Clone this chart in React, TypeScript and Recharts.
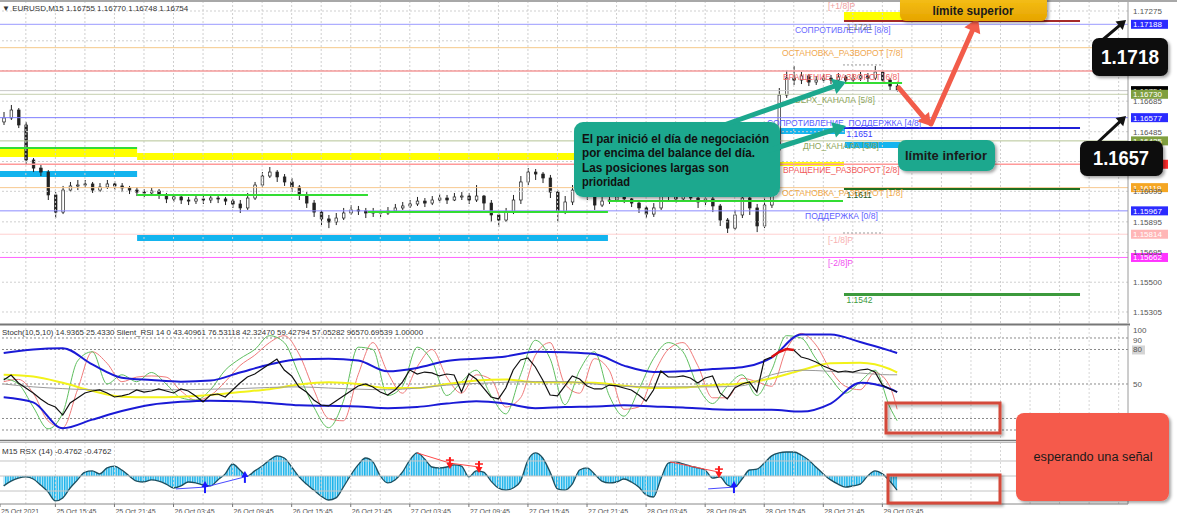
import React from 'react';
import { ComposedChart, Bar, Line, Area, XAxis, YAxis, ReferenceLine, ReferenceArea, ReferenceDot } from 'recharts';

// ---------- EURUSD price candles (45-minute steps) ----------
const OPEN = [
  1.16549, 1.16575, 1.16627, 1.16529, 1.16300, 1.16247, 1.16221, 1.16071, 1.15959, 1.16103,
  1.16130, 1.16136, 1.16143, 1.16103, 1.16123, 1.16143, 1.16130, 1.16117, 1.16103, 1.16090,
  1.16084, 1.16097, 1.16071, 1.16045, 1.16058, 1.16038, 1.16031, 1.16045, 1.16038, 1.16051,
  1.16045, 1.16031, 1.16012, 1.15986, 1.16051, 1.16136, 1.16195, 1.16221, 1.16189, 1.16156,
  1.16123, 1.16071, 1.16018, 1.15959, 1.15914, 1.15894, 1.15920, 1.15953, 1.15973, 1.15966,
  1.15953, 1.15959, 1.15953, 1.15966, 1.15986, 1.15999, 1.16012, 1.16031, 1.16018, 1.16038,
  1.16051, 1.16038, 1.16058, 1.16064, 1.16038, 1.16064, 1.16018, 1.15940, 1.15907, 1.15959,
  1.16038, 1.16156, 1.16221, 1.16208, 1.16182, 1.16090, 1.15959, 1.16025, 1.16103, 1.16156,
  1.16071, 1.16005, 1.16031, 1.16038, 1.16058, 1.16045, 1.16018, 1.15986, 1.15946, 1.15986,
  1.16084, 1.16064, 1.16045, 1.16071, 1.16051, 1.16025, 1.16045, 1.15999, 1.15907, 1.15854,
  1.15940, 1.16051, 1.15986, 1.15868, 1.16005, 1.16365, 1.16725, 1.16836, 1.16823, 1.16850,
  1.16810, 1.16823, 1.16836, 1.16823, 1.16843, 1.16823, 1.16836, 1.16850, 1.16836, 1.16876,
  1.16823, 1.16784,
];
const HIGH = [
  1.16614, 1.16660, 1.16640, 1.16549, 1.16313, 1.16267, 1.16234, 1.16090, 1.16130, 1.16156,
  1.16169, 1.16169, 1.16156, 1.16149, 1.16169, 1.16162, 1.16149, 1.16130, 1.16123, 1.16110,
  1.16117, 1.16110, 1.16084, 1.16077, 1.16071, 1.16058, 1.16064, 1.16064, 1.16071, 1.16071,
  1.16058, 1.16045, 1.16038, 1.16084, 1.16156, 1.16221, 1.16254, 1.16234, 1.16208, 1.16182,
  1.16136, 1.16090, 1.16038, 1.15973, 1.15940, 1.15953, 1.15986, 1.16005, 1.15999, 1.15986,
  1.15986, 1.15979, 1.15992, 1.16012, 1.16025, 1.16038, 1.16058, 1.16051, 1.16064, 1.16077,
  1.16071, 1.16084, 1.16090, 1.16084, 1.16136, 1.16071, 1.16038, 1.15959, 1.15986, 1.16071,
  1.16195, 1.16247, 1.16241, 1.16221, 1.16202, 1.16103, 1.16064, 1.16136, 1.16182, 1.16169,
  1.16090, 1.16064, 1.16064, 1.16084, 1.16071, 1.16051, 1.16038, 1.15999, 1.16018, 1.16117,
  1.16103, 1.16077, 1.16103, 1.16090, 1.16064, 1.16077, 1.16058, 1.16012, 1.15920, 1.15973,
  1.16090, 1.16077, 1.16012, 1.16051, 1.16398, 1.16771, 1.16889, 1.16915, 1.16876, 1.16863,
  1.16850, 1.16863, 1.16856, 1.16869, 1.16856, 1.16863, 1.16876, 1.16869, 1.16915, 1.16889,
  1.16836, 1.16797,
];
const LOW = [
  1.16529, 1.16562, 1.16509, 1.16267, 1.16221, 1.16195, 1.16038, 1.15920, 1.15946, 1.16090,
  1.16103, 1.16117, 1.16084, 1.16090, 1.16110, 1.16103, 1.16090, 1.16077, 1.16064, 1.16058,
  1.16064, 1.16045, 1.16018, 1.16025, 1.16012, 1.16005, 1.16012, 1.16012, 1.16018, 1.16018,
  1.16005, 1.15986, 1.15953, 1.15973, 1.16038, 1.16117, 1.16182, 1.16156, 1.16130, 1.16090,
  1.16038, 1.15986, 1.15927, 1.15874, 1.15854, 1.15874, 1.15907, 1.15940, 1.15940, 1.15920,
  1.15927, 1.15927, 1.15940, 1.15959, 1.15973, 1.15986, 1.15999, 1.15992, 1.16005, 1.16018,
  1.16012, 1.16031, 1.16038, 1.16012, 1.16025, 1.15973, 1.15894, 1.15861, 1.15894, 1.15946,
  1.16012, 1.16136, 1.16169, 1.16149, 1.16051, 1.15894, 1.15946, 1.16005, 1.16090, 1.16038,
  1.15973, 1.15992, 1.16012, 1.16025, 1.16018, 1.15992, 1.15953, 1.15920, 1.15927, 1.15973,
  1.16038, 1.16018, 1.16031, 1.16025, 1.15986, 1.16005, 1.15959, 1.15868, 1.15822, 1.15842,
  1.15920, 1.15940, 1.15828, 1.15854, 1.15986, 1.16352, 1.16706, 1.16791, 1.16797, 1.16784,
  1.16791, 1.16804, 1.16797, 1.16810, 1.16797, 1.16804, 1.16817, 1.16810, 1.16823, 1.16797,
  1.16758, 1.16748,
];
const CLOSE = [
  1.16575, 1.16627, 1.16529, 1.16300, 1.16247, 1.16221, 1.16071, 1.15959, 1.16103, 1.16130,
  1.16136, 1.16143, 1.16103, 1.16123, 1.16143, 1.16130, 1.16117, 1.16103, 1.16090, 1.16084,
  1.16097, 1.16071, 1.16045, 1.16058, 1.16038, 1.16031, 1.16045, 1.16038, 1.16051, 1.16045,
  1.16031, 1.16012, 1.15986, 1.16051, 1.16136, 1.16195, 1.16221, 1.16189, 1.16156, 1.16123,
  1.16071, 1.16018, 1.15959, 1.15914, 1.15894, 1.15920, 1.15953, 1.15973, 1.15966, 1.15953,
  1.15959, 1.15953, 1.15966, 1.15986, 1.15999, 1.16012, 1.16031, 1.16018, 1.16038, 1.16051,
  1.16038, 1.16058, 1.16064, 1.16038, 1.16064, 1.16018, 1.15940, 1.15907, 1.15959, 1.16038,
  1.16156, 1.16221, 1.16208, 1.16182, 1.16090, 1.15959, 1.16025, 1.16103, 1.16156, 1.16071,
  1.16005, 1.16031, 1.16038, 1.16058, 1.16045, 1.16018, 1.15986, 1.15946, 1.15986, 1.16084,
  1.16064, 1.16045, 1.16071, 1.16051, 1.16025, 1.16045, 1.15999, 1.15907, 1.15854, 1.15940,
  1.16051, 1.15986, 1.15868, 1.16005, 1.16365, 1.16725, 1.16836, 1.16823, 1.16850, 1.16810,
  1.16823, 1.16836, 1.16823, 1.16843, 1.16823, 1.16836, 1.16850, 1.16836, 1.16876, 1.16823,
  1.16784, 1.16754,
];

// ---------- Silent_RSI panel ----------
const RSI = [
  53.5, 57.8, 50.9, 46.5, 42.2, 37, 32.6, 30, 23, 33.5,
  37.8, 42.2, 43.9, 44.8, 42.2, 38.7, 39.6, 41.3, 44.8, 43,
  43.9, 45.7, 43.9, 42.2, 45.7, 43.9, 39.6, 34.3, 40.4, 41.3,
  38.7, 44.8, 50.9, 56.1, 58.7, 63, 67.4, 71.7, 62.2, 57,
  47.4, 43, 36.1, 31.7, 30.9, 35.2, 39.6, 43.9, 48.3, 50,
  47.4, 43, 40.4, 44.8, 51.7, 62.2, 58.7, 60.4, 59.6, 57,
  58.7, 57.8, 43, 58.7, 54.3, 46.5, 38.7, 37, 46.5, 62.2,
  70.9, 72.6, 64.8, 53.5, 40.4, 39.6, 48.3, 57, 54.3, 48.3,
  45.7, 45.7, 49.1, 48.3, 46.5, 44.8, 40.4, 35.2, 44.8, 61.3,
  56.1, 56.1, 57, 55.2, 50.9, 55.2, 57, 42.2, 37, 46.5,
  50, 51.7, 43, 70.9, 73.5, 77.8, 80.4, 79.6, 73.5, 71.7,
  69.1, 65.7, 63, 60.4, 61.3, 60.4, 62.2, 63, 60.4, 49.1,
  45.7, 43,
];
// every second candle (+ last)
const STOCH_MAIN = [
  55, 50, 30, 11, 25, 70, 78, 50, 58, 52, 60, 50, 38, 36, 45, 62, 72, 80, 92, 86,
  58, 30, 12, 35, 82, 80, 40, 48, 82, 70, 40, 52, 62, 40, 24, 58, 88, 72, 32, 62,
  78, 40, 22, 45, 72, 86, 78, 48, 33, 48, 58, 40, 62, 92, 90, 72, 55, 42, 52, 62,
  30, 18,
];
const STOCH_SIGNAL = [
  52, 54, 42, 18, 12, 45, 78, 68, 52, 56, 57, 56, 44, 36, 40, 52, 66, 75, 86, 92,
  76, 45, 20, 18, 58, 86, 60, 42, 65, 80, 56, 42, 58, 54, 30, 38, 75, 86, 50, 42,
  72, 62, 28, 30, 58, 80, 86, 66, 38, 38, 55, 52, 48, 80, 94, 84, 62, 48, 45, 60,
  48, 28,
];
// every fourth candle (+ last)
const BAND_UPPER = [77, 80, 81, 67, 55.5, 53.5, 52, 53, 60, 67, 71.5, 72, 70.5, 61, 64, 70, 72, 74, 78, 77.5, 76, 66, 60.5, 61, 63, 64.5, 73, 93, 93, 86.5, 79, 77];
const BAND_LOWER = [38.5, 34, 11.5, 19, 26.5, 32, 34.5, 35.5, 35, 33.5, 31.5, 31, 30.5, 29, 30, 33, 35, 33, 29, 30, 30.5, 31.5, 30.5, 29.5, 28, 27.5, 27.5, 26, 33, 51, 46, 43];
const RSI_SLOW = [58, 56.5, 51, 44, 39, 38.5, 39, 40.5, 43, 45.5, 49.5, 51.5, 50, 46.5, 46.5, 50, 53, 54, 51.5, 51.5, 51, 48.5, 46.5, 47, 49, 50.5, 55, 62, 68, 68.5, 63, 60];
const RSI_FAST = [50, 47.5, 46, 45, 45, 45, 45, 45.5, 46, 47, 47.5, 46.5, 45.5, 45, 46.5, 49, 50.5, 51.5, 52, 52, 50, 48, 47.5, 47.5, 47.5, 48.5, 58, 62, 61, 59.5, 58, 58];
const RSI_HOT_FROM = 104;
const RSI_HOT_TO = 107;

// ---------- RSX panel ----------
const RSX = [
  -0.33, -0.17, -0.07, -0.03, -0.1, -0.3, -0.53, -0.83, -0.73, -0.4,
  -0.13, 0.13, 0.17, 0.07, 0.27, 0.33, 0.2, 0, -0.17, -0.2,
  -0.13, -0.17, -0.27, -0.4, -0.33, -0.2, -0.23, -0.3, -0.33, -0.13,
  0.07, 0.4, 0.2, 0, 0.17, 0.33, 0.53, 0.67, 0.6, 0.3,
  -0.03, -0.27, -0.47, -0.67, -0.8, -0.73, -0.37, 0.03, 0.37, 0.6,
  0.47, 0, -0.23, -0.13, 0.13, 0.53, 0.77, 0.57, 0.3, 0.27,
  0.3, 0.37, 0.33, -0.03, 0.17, 0.13, -0.17, -0.4, -0.47, -0.4,
  -0.17, 0.53, 0.77, 0.6, 0.13, -0.43, -0.47, -0.27, 0.2, 0.27,
  0.07, -0.17, -0.23, -0.2, -0.1, -0.2, -0.37, -0.63, -0.7, -0.1,
  0.43, 0.47, 0.4, 0.33, 0.27, 0.2, -0.07, -0.03, -0.3, -0.37,
  -0.1, 0.2, 0.23, 0.43, 0.67, 0.77, 0.8, 0.8, 0.7, 0.53,
  0.3, 0.07, -0.13, -0.27, -0.37, -0.33, -0.27, 0, 0.17, 0.07,
  -0.17, -0.4762,
];
const DIV_BLUE_1 = [[71.5, -0.43], [83.3, -0.37], [99.5, -0.03]];
const DIV_BLUE_2 = [[287.7, -0.43], [298.2, -0.37]];
const DIV_RED_1 = [[169.4, 0.77], [182.8, 0.43], [194.6, 0.3]];
const DIV_RED_2 = [[272.2, 0.47], [292.1, 0.13]];

// ---------- levels ----------
const MM_PRICES = [1.17341, 1.17188, 1.17035, 1.16882, 1.16730, 1.16577, 1.16425, 1.16272, 1.16119, 1.15967, 1.15814, 1.15662];
const MM_NAMES = ['[+1/8]P', 'СОПРОТИВЛЕНИЕ [8/8]', 'ОСТАНОВКА_РАЗВОРОТ [7/8]', 'ВРАЩЕНИЕ_РАЗВОРОТ [6/8]', 'ВЕРХ_КАНАЛА [5/8]', 'СОПРОТИВЛЕНИЕ_ПОДДЕРЖКА [4/8]', 'ДНО_КАНАЛА [3/8]', 'ВРАЩЕНИЕ_РАЗВОРОТ [2/8]', 'ОСТАНОВКА_РАЗВОРОТ [1/8]', 'ПОДДЕРЖКА [0/8]', '[-1/8]P', '[-2/8]P'];
const MM_LABEL_T = [336.4, 323, 317.7, 318.1, 323, 311.6, 326.2, 318.1, 317.7, 327.1, 336.4, 336.4];
const BID = 1.16754;
const SEG_PRICES = [1.1721, 1.1651, 1.1611, 1.1542];
const SEG_T = [342.9, 438.8];
const PRICE_TICKS = [1.17275, 1.1708, 1.16885, 1.16685, 1.16485, 1.1629, 1.16095, 1.15895, 1.15695, 1.155, 1.15305];
const TIME_TICKS = [0, 22.5, 46.5, 70.5, 94.5, 118.5, 142.5, 166.5, 190.5, 214.5, 238.5, 262.5, 286.5, 310.5, 334.5, 358.5];
const TIME_LABELS = ['25 Oct 2021', '25 Oct 15:45', '25 Oct 21:45', '26 Oct 03:45', '26 Oct 09:45', '26 Oct 15:45', '26 Oct 21:45', '27 Oct 03:45', '27 Oct 09:45', '27 Oct 15:45', '27 Oct 21:45', '28 Oct 03:45', '28 Oct 09:45', '28 Oct 15:45', '28 Oct 21:45', '29 Oct 03:45'];

// ---------- styles ----------
const MM_LINE_COLORS = ['#f4b0b0', '#9a9aff', '#f5c98a', '#f49a9a', '#c5cfae', '#7d7dff', '#b5c496', '#ff9a9a', '#f7c98f', '#8c8cff', '#ffd0d0', '#ff66ff'];
const MM_TEXT_COLORS = ['#f0a0a0', '#6a6aff', '#f0a850', '#f06868', '#8ea65a', '#5a5aff', '#8ea65a', '#f05a5a', '#f0a848', '#6060ff', '#f8b0b0', '#f050f0'];
const W = 1177;
const AXIS_W = 49;
const PX_PER_BAR = 2.4613;
const X_MAX = (W - AXIS_W) / PX_PER_BAR;
const PRICE_DOMAIN = [1.15233, 1.17334];
const STOCH_DOMAIN = [3.04, 100.43];
const RSX_DOMAIN = [-0.933, 1.133];
const GRID_T = Array.from({ length: 38 }, (_, k) => 10.5 + 12 * k);
const FONT = '"Liberation Sans", Arial, sans-serif';

const data = OPEN.map((o, i) => {
  const last = i === OPEN.length - 1;
  const q = i % 4 === 0 ? i / 4 : last ? BAND_UPPER.length - 1 : -1;
  const hh = i % 2 === 0 ? i / 2 : last ? STOCH_MAIN.length - 1 : -1;
  return {
    t: 1.5 + 3 * i,
    o, h: HIGH[i], l: LOW[i], c: CLOSE[i],
    range: [LOW[i], HIGH[i]],
    rsi: RSI[i],
    rsiHot: i >= RSI_HOT_FROM && i <= RSI_HOT_TO ? RSI[i] : null,
    bbU: q >= 0 ? BAND_UPPER[q] : null,
    bbL: q >= 0 ? BAND_LOWER[q] : null,
    slow: q >= 0 ? RSI_SLOW[q] : null,
    fast: q >= 0 ? RSI_FAST[q] : null,
    st: hh >= 0 ? STOCH_MAIN[hh] : null,
    sg: hh >= 0 ? STOCH_SIGNAL[hh] : null,
    rsx: RSX[i],
  };
});

const Candle = (props: any) => {
  const { x, y, width, height, payload } = props;
  if (!payload || height == null || isNaN(y)) return null;
  const top = Math.min(y, y + height);
  const hgt = Math.abs(height);
  const span = payload.h - payload.l;
  const k = span > 0 ? hgt / span : 0;
  const yo = top + (payload.h - payload.o) * k;
  const yc = top + (payload.h - payload.c) * k;
  const cx = x + width / 2;
  const up = payload.c >= payload.o;
  return (
    <g>
      <line x1={cx} x2={cx} y1={top} y2={top + hgt} stroke="#222" strokeWidth={1} />
      <rect x={cx - 1.3} y={Math.min(yo, yc)} width={2.6} height={Math.max(1, Math.abs(yc - yo))} fill={up ? '#ffffff' : '#222'} stroke="#222" strokeWidth={0.7} />
    </g>
  );
};

const AXIS_BOXES: [number, string, string][] = [
  [MM_PRICES[1], '#2b2bff', '#fff'],
  [BID, '#000000', '#fff'],
  [MM_PRICES[4], '#7f9f3f', '#fff'],
  [MM_PRICES[5], '#2b2bff', '#fff'],
  [MM_PRICES[6], '#7f9f3f', '#fff'],
  [MM_PRICES[7], '#ff2b2b', '#fff'],
  [MM_PRICES[8], '#f5a623', '#fff'],
  [MM_PRICES[9], '#2b2bff', '#fff'],
  [MM_PRICES[10], '#ffb6b6', '#fff'],
  [MM_PRICES[11], '#ff33ff', '#fff'],
];

const BANDS = [
  { x1: 0, x2: 55.7, y1: 1.1632, y2: 1.16372, fill: '#ffff00' },
  { x1: 55.7, x2: 247, y1: 1.163, y2: 1.16346, fill: '#ffff00' },
  { x1: 0, x2: 55.7, y1: 1.16189, y2: 1.16228, fill: '#14b4ee' },
  { x1: 55.7, x2: 247, y1: 1.1577, y2: 1.15809, fill: '#14b4ee' },
  { x1: 312.8, x2: 343.3, y1: 1.1647, y2: 1.16509, fill: '#14b4ee' },
  { x1: 343.3, x2: 365.7, y1: 1.16379, y2: 1.16418, fill: '#14b4ee' },
  { x1: 308.8, x2: 342.9, y1: 1.16261, y2: 1.16287, fill: '#ffff00' },
  { x1: 342.9, x2: 367, y1: 1.17216, y2: 1.17268, fill: '#ffff00' },
];
const GREEN_SEGS = [
  [0, 55.7, 1.16379], [55.7, 149.5, 1.16071], [149.5, 247, 1.15959], [247, 342.5, 1.16031], [343.3, 366.5, 1.16804],
];
const SEG_COLORS = ['#a52a2a', '#1f1fd8', '#1f6f1f', '#3c9a3c'];
const SEG_WIDTHS = [2, 2, 2, 3];
const SEG_TEXT_COLORS = ['#777', '#3a3aff', '#2a5a2a', '#3c9a3c'];

const Arrow = ({ x1, y1, x2, y2, color, w, head }: any) => {
  const a = Math.atan2(y2 - y1, x2 - x1);
  const hx = x2 - head * Math.cos(a);
  const hy = y2 - head * Math.sin(a);
  const px = Math.sin(a) * head * 0.62;
  const py = -Math.cos(a) * head * 0.62;
  return (
    <g>
      <line x1={x1} y1={y1} x2={hx} y2={hy} stroke={color} strokeWidth={w} strokeLinecap="round" />
      <polygon points={`${x2},${y2} ${hx + px},${hy + py} ${hx - px},${hy - py}`} fill={color} />
    </g>
  );
};

const StochTick = (props: any) => {
  const { x, y, payload } = props;
  const v = payload.value;
  const dy = v === 100 ? 7 : v === 90 ? 5 : 3;
  return (
    <g>
      {v === 80 && <rect x={x - 1} y={y - 4} width={13} height={9} fill="#d4d4d4" />}
      <text x={x} y={y + dy} fontSize={8} fill="#555">{v}</text>
    </g>
  );
};

const TimeTick = (props: any) => {
  const { x, y, index } = props;
  return (
    <text x={x + 1} y={y + 4.5} fontSize={7} fill="#555">{TIME_LABELS[index]}</text>
  );
};

const segLine = (pts: number[][], color: string, key: string) =>
  pts.slice(1).map((p, k) => (
    <ReferenceLine key={key + k} segment={[{ x: pts[k][0], y: pts[k][1] }, { x: p[0], y: p[1] }]} stroke={color} strokeWidth={1} ifOverflow="visible" />
  ));

const BlueArrowShape = (s: any) => (
  <g>
    <line x1={s.cx} x2={s.cx} y1={s.cy - 2} y2={s.cy + 6} stroke="#1a1aff" strokeWidth={2} />
    <polygon points={`${s.cx},${s.cy - 6} ${s.cx - 3.5},${s.cy} ${s.cx + 3.5},${s.cy}`} fill="#1a1aff" />
  </g>
);
const RedArrowShape = (s: any) => (
  <g>
    <line x1={s.cx} x2={s.cx} y1={s.cy - 6} y2={s.cy + 2} stroke="#ff1a1a" strokeWidth={2} />
    <line x1={s.cx - 4} x2={s.cx + 4} y1={s.cy - 3} y2={s.cy - 3} stroke="#ff1a1a" strokeWidth={1.5} />
    <polygon points={`${s.cx},${s.cy + 6} ${s.cx - 3.5},${s.cy} ${s.cx + 3.5},${s.cy}`} fill="#ff1a1a" />
  </g>
);

export default function App() {
  return (
    <div style={{ position: 'absolute', left: 0, top: 0, width: W, height: 513, background: '#fff', fontFamily: FONT, overflow: 'hidden' }}>
      {/* ---------------- price panel ---------------- */}
      <div style={{ position: 'absolute', left: 0, top: 0 }}>
        <ComposedChart width={W} height={325} data={data} margin={{ top: 2, right: 0, bottom: 2, left: 0 }}>
          <XAxis type="number" dataKey="t" domain={[0, X_MAX]} hide allowDataOverflow />
          <YAxis orientation="right" width={AXIS_W} domain={PRICE_DOMAIN} ticks={PRICE_TICKS} allowDataOverflow interval={0}
            tick={{ fontSize: 8, fill: '#555' }} tickFormatter={(v: number) => v.toFixed(5)} tickLine={false} tickSize={3}
            axisLine={{ stroke: '#9a9a9a' }} />
          {PRICE_TICKS.map((p) => <ReferenceLine key={'hg' + p} y={p} stroke="#cfcfcf" strokeDasharray="2 2" />)}
          {GRID_T.map((t) => <ReferenceLine key={'vg' + t} x={t} stroke="#cfcfcf" strokeDasharray="2 2" />)}
          {BANDS.map((b, k) => <ReferenceArea key={'bd' + k} x1={b.x1} x2={b.x2} y1={b.y1} y2={b.y2} fill={b.fill} fillOpacity={1} stroke="none" ifOverflow="visible" />)}
          {MM_PRICES.map((p, k) => k > 0 && <ReferenceLine key={'mm' + k} y={p} stroke={MM_LINE_COLORS[k]} strokeWidth={k === 3 || k === 7 ? 1.5 : 1} />)}
          <ReferenceLine y={BID} stroke="#c8c8c8" />
          {GREEN_SEGS.map((g, k) => (
            <ReferenceLine key={'gs' + k} segment={[{ x: g[0], y: g[2] }, { x: g[1], y: g[2] }]} stroke="#33dd33" strokeWidth={2} ifOverflow="visible" />
          ))}
          {SEG_PRICES.map((p, k) => (
            <ReferenceLine key={'sg' + k} segment={[{ x: SEG_T[0], y: p }, { x: SEG_T[1], y: p }]} stroke={SEG_COLORS[k]} strokeWidth={SEG_WIDTHS[k]} ifOverflow="visible" />
          ))}
          <ReferenceLine segment={[{ x: 342.5, y: 1.16922 }, { x: 358.8, y: 1.16922 }]} stroke="#999" strokeDasharray="2 2" />
          <ReferenceLine segment={[{ x: 342.5, y: 1.15822 }, { x: 358.8, y: 1.15822 }]} stroke="#999" strokeDasharray="2 2" />
          <Bar dataKey="range" barSize={4} isAnimationActive={false} shape={(p: any) => <Candle {...p} />} />
          {MM_PRICES.map((p, k) => (
            <ReferenceDot key={'ml' + k} x={MM_LABEL_T[k]} y={p} r={0} ifOverflow="visible"
              shape={(s: any) => <text x={s.cx} y={s.cy + 8.5} fontSize={8.5} fill={MM_TEXT_COLORS[k]}>{MM_NAMES[k]}</text>} />
          ))}
          {SEG_PRICES.map((p, k) => (
            <ReferenceDot key={'st' + k} x={SEG_T[0] + 1} y={p} r={0} ifOverflow="visible"
              shape={(s: any) => <text x={s.cx} y={s.cy + 9} fontSize={8.5} fill={SEG_TEXT_COLORS[k]}>{p.toFixed(4)}</text>} />
          ))}
          {AXIS_BOXES.map(([p, bg, fg], k) => (
            <ReferenceDot key={'ab' + k} x={X_MAX} y={p} r={0} ifOverflow="visible"
              shape={(s: any) => (
                <g>
                  <rect x={s.cx + 3} y={s.cy - 4.5} width={37} height={9} fill={bg} />
                  <text x={s.cx + 5} y={s.cy + 3} fontSize={8} fill={fg}>{p.toFixed(5)}</text>
                </g>
              )} />
          ))}
        </ComposedChart>
      </div>

      {/* ---------------- stochastic / RSI panel ---------------- */}
      <div style={{ position: 'absolute', left: 0, top: 324 }}>
        <ComposedChart width={W} height={116} data={data} margin={{ top: 2, right: 0, bottom: 2, left: 0 }}>
          <XAxis type="number" dataKey="t" domain={[0, X_MAX]} hide allowDataOverflow />
          <YAxis orientation="right" width={AXIS_W} domain={STOCH_DOMAIN} ticks={[100, 90, 80, 50]} allowDataOverflow interval={0}
            tick={(p: any) => <StochTick {...p} />} tickLine={false} tickSize={3} axisLine={{ stroke: '#9a9a9a' }} />
          {GRID_T.map((t) => <ReferenceLine key={'vg' + t} x={t} stroke="#d6d6d6" strokeDasharray="2 2" />)}
          {[90, 80, 50, 20, 10].map((v) => <ReferenceLine key={'lv' + v} y={v} stroke="#8a8a8a" strokeDasharray="2 2" />)}
          <Line dataKey="sg" type="monotone" stroke="#f07a7a" strokeWidth={1} dot={false} connectNulls isAnimationActive={false} />
          <Line dataKey="st" type="monotone" stroke="#5fbf5f" strokeWidth={1} dot={false} connectNulls isAnimationActive={false} />
          <Line dataKey="slow" type="monotone" stroke="#f2f21a" strokeWidth={2} dot={false} connectNulls isAnimationActive={false} />
          <Line dataKey="fast" type="monotone" stroke="#9a9a9a" strokeWidth={1} dot={false} connectNulls isAnimationActive={false} />
          <Line dataKey="bbU" type="monotone" stroke="#1a1ad6" strokeWidth={2} dot={false} connectNulls isAnimationActive={false} />
          <Line dataKey="bbL" type="monotone" stroke="#1a1ad6" strokeWidth={2} dot={false} connectNulls isAnimationActive={false} />
          <Line dataKey="rsi" type="linear" stroke="#111" strokeWidth={1.2} dot={false} isAnimationActive={false} />
          <Line dataKey="rsiHot" type="linear" stroke="#e01010" strokeWidth={2.5} dot={false} isAnimationActive={false} />
        </ComposedChart>
      </div>

      {/* ---------------- RSX panel ---------------- */}
      <div style={{ position: 'absolute', left: 0, top: 440 }}>
        <ComposedChart width={W} height={73} data={data} margin={{ top: 2, right: 0, bottom: 0, left: 0 }}>
          <defs>
            <pattern id="rsxStripes" width={2.46} height={8} patternUnits="userSpaceOnUse">
              <rect width={2.46} height={8} fill="#c6ecfa" />
              <rect width={1.4} height={8} fill="#19b2ea" />
            </pattern>
          </defs>
          <XAxis type="number" dataKey="t" domain={[0, X_MAX]} allowDataOverflow ticks={TIME_TICKS} interval={0} height={9}
            tick={(p: any) => <TimeTick {...p} />} tickSize={3} tickLine={{ stroke: '#777' }} axisLine={{ stroke: '#888' }} />
          <YAxis orientation="right" width={AXIS_W} domain={RSX_DOMAIN} ticks={[]} allowDataOverflow axisLine={{ stroke: '#9a9a9a' }} />
          {GRID_T.map((t) => <ReferenceLine key={'vg' + t} x={t} stroke="#d6d6d6" strokeDasharray="2 2" />)}
          {[0.5, 0, -0.5].map((v) => <ReferenceLine key={'rl' + v} y={v} stroke="#c4c4c4" />)}
          <Area dataKey="rsx" type="monotone" baseValue={0} fill="url(#rsxStripes) #19b2ea" fillOpacity={1} stroke="#1d4f5f" strokeWidth={1.3} dot={false} isAnimationActive={false} />
          {segLine(DIV_BLUE_1, '#4a4aff', 'b1')}
          {segLine(DIV_BLUE_2, '#4a4aff', 'b2')}
          {segLine(DIV_RED_1, '#ff4a4a', 'r1')}
          {segLine(DIV_RED_2, '#ff4a4a', 'r2')}
          {[DIV_BLUE_1, DIV_BLUE_2].flatMap((d, j) => d.slice(1).map((p, k) => (
            <ReferenceDot key={'ba' + j + k} x={p[0]} y={p[1]} r={0} ifOverflow="visible" shape={(s: any) => <BlueArrowShape {...s} />} />
          )))}
          {[DIV_RED_1, DIV_RED_2].flatMap((d, j) => d.slice(1).map((p, k) => (
            <ReferenceDot key={'ra' + j + k} x={p[0]} y={p[1]} r={0} ifOverflow="visible" shape={(s: any) => <RedArrowShape {...s} />} />
          )))}
        </ComposedChart>
      </div>

      {/* ---------------- headers, separators & annotations ---------------- */}
      <svg width={W} height={513} style={{ position: 'absolute', left: 0, top: 0, pointerEvents: 'none', fontFamily: FONT }}>
        <defs>
          <filter id="shadow" x="-20%" y="-20%" width="140%" height="140%">
            <feDropShadow dx="2" dy="2" stdDeviation="1.5" floodColor="#000" floodOpacity="0.35" />
          </filter>
          <linearGradient id="gold" x1="0" y1="0" x2="0" y2="1">
            <stop offset="0" stopColor="#f9c61c" />
            <stop offset="1" stopColor="#e6a400" />
          </linearGradient>
        </defs>
        <rect x={0} y={0} width={W} height={2} fill="#a8a8a8" />
        <text x={2} y={11} fontSize={8} fill="#333">▼ EURUSD,M15  1.16755 1.16770 1.16748 1.16754</text>
        <line x1={0} x2={1130} y1={324.5} y2={324.5} stroke="#777" strokeWidth={2} />
        <text x={2} y={335} fontSize={8} fill="#333" textLength={421} lengthAdjust="spacingAndGlyphs">Stoch(10,5,10) 14.9365 25.4330  Silent_RSI 14 0 43.40961 76.53118 42.32470 59.42794 57.05282 96570.69539 1.00000</text>
        <line x1={0} x2={1130} y1={440.5} y2={440.5} stroke="#777" strokeWidth={1.5} />
        <line x1={0} x2={1130} y1={442.5} y2={442.5} stroke="#bbb" strokeWidth={1} />
        <text x={2} y={454} fontSize={8} fill="#333">M15  RSX (14) -0.4762 -0.4762</text>

        {/* teal callout */}
        <rect x={574} y={122} width={206} height={75} rx={9} fill="#1ca88e" filter="url(#shadow)" />
        <g fill="#111" fontSize={12} fontWeight="bold">
          <text x={582} y={142.5} textLength={187} lengthAdjust="spacingAndGlyphs">El par inició el día de negociación</text>
          <text x={582} y={157} textLength={173} lengthAdjust="spacingAndGlyphs">por encima del balance del día.</text>
          <text x={582} y={171.5} textLength={147} lengthAdjust="spacingAndGlyphs">Las posiciones largas son</text>
          <text x={582} y={186} textLength={48} lengthAdjust="spacingAndGlyphs">prioridad</text>
        </g>
        <Arrow x1={724} y1={125} x2={846} y2={82} color="#1ca88e" w={5} head={13} />
        <Arrow x1={770} y1={150} x2={846} y2={126} color="#1ca88e" w={5} head={13} />

        {/* red path arrows */}
        <Arrow x1={899} y1={88} x2={931} y2={126} color="#f25c4a" w={5} head={12} />
        <Arrow x1={931} y1={124} x2={978} y2={18} color="#f25c4a" w={5} head={14} />

        {/* límite superior */}
        <rect x={900} y={-8} width={147} height={29} rx={6} fill="url(#gold)" filter="url(#shadow)" />
        <text x={973} y={15} fontSize={13} fontWeight="bold" fill="#1a1a1a" textAnchor="middle" textLength={81} lengthAdjust="spacingAndGlyphs">límite superior</text>

        {/* límite inferior */}
        <rect x={898} y={140} width={97} height={31} rx={8} fill="#1ca88e" filter="url(#shadow)" />
        <text x={946} y={160} fontSize={13} fontWeight="bold" fill="#1a1a1a" textAnchor="middle" textLength={82} lengthAdjust="spacingAndGlyphs">límite inferior</text>

        {/* black price callouts */}
        <Arrow x1={1100} y1={42} x2={1126} y2={20} color="#111" w={3} head={9} />
        <rect x={1092} y={38} width={76} height={38} rx={7} fill="#0d0d0d" filter="url(#shadow)" />
        <text x={1130} y={64} fontSize={20} fontWeight="bold" fill="#fff" textAnchor="middle" textLength={58} lengthAdjust="spacingAndGlyphs">1.1718</text>
        <Arrow x1={1096} y1={144} x2={1126} y2={116} color="#111" w={3} head={9} />
        <rect x={1080} y={141} width={83} height={35} rx={7} fill="#0d0d0d" filter="url(#shadow)" />
        <text x={1121} y={165} fontSize={20} fontWeight="bold" fill="#fff" textAnchor="middle" textLength={56} lengthAdjust="spacingAndGlyphs">1.1657</text>

        {/* waiting boxes */}
        <rect x={886} y={403} width={114} height={30} fill="none" stroke="#d44a3a" strokeWidth={3} filter="url(#shadow)" />
        <rect x={888} y={475} width={112} height={28} fill="none" stroke="#d44a3a" strokeWidth={3} filter="url(#shadow)" />
        <rect x={1016} y={413} width={153} height={88} rx={8} fill="#f55a4b" filter="url(#shadow)" />
        <text x={1093} y={461} fontSize={12.5} fill="#1a1a1a" textAnchor="middle" textLength={119} lengthAdjust="spacingAndGlyphs">esperando una señal</text>
      </svg>
    </div>
  );
}
